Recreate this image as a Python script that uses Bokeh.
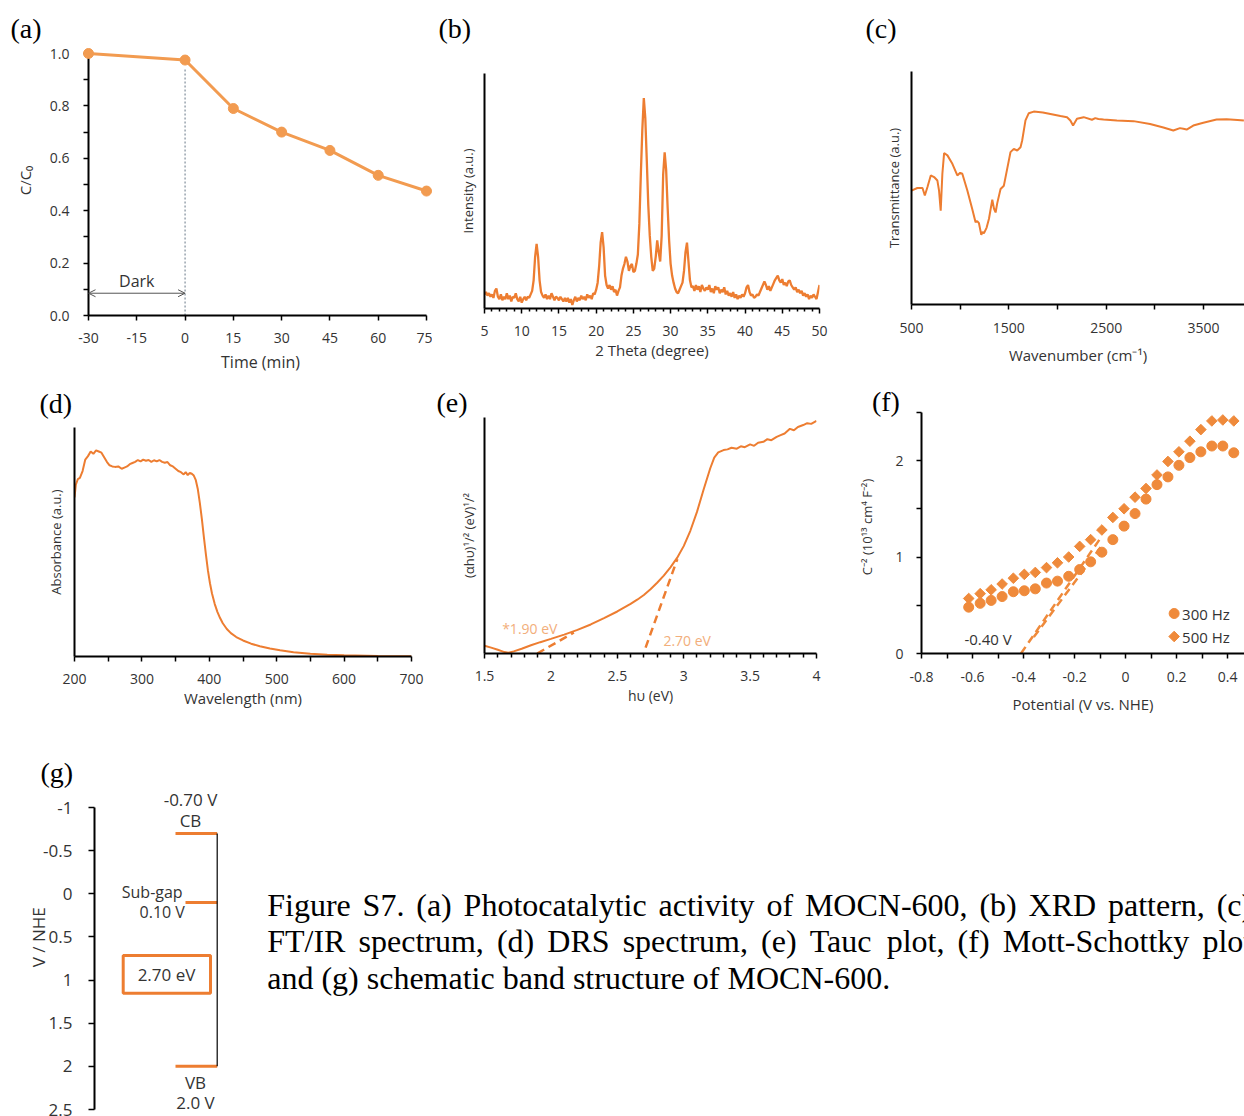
import numpy as np
from bokeh.plotting import figure
from bokeh.models import (Range1d, FixedTicker, Label, Arrow, OpenHead,
                          CustomJSTickFormatter, ColumnDataSource)
from bokeh.layouts import row, column
from bokeh.embed import file_html
from bokeh.resources import INLINE
from bokeh.core.properties import value

SANS = "Open Sans"
SERIF = "Liberation Serif"
ORANGE = "#ED7D31"
ORANGE_A = "#F29B50"
ORANGE_F = "#EF8A3B"
ORANGE_TXT = "#F2AE7B"
TXT = "#333333"

# ---------------- (a) photocatalytic activity ----------------
time_min = [-30, 0, 15, 30, 45, 60, 75]
c_c0 = [1.0, 0.975, 0.79, 0.70, 0.63, 0.535, 0.475]

# ---------------- (b) XRD ----------------
xrd_theta = [round(5 + 0.2 * i, 1) for i in range(226)]
xrd_int = [
    6, 7, 5.5, 6.5, 5,
    6, 4.5, 7.5, 8.5, 5,
    4, 6, 3.5, 5, 4,
    6.5, 4, 5.5, 3, 5,
    4.5, 6.5, 4, 3, 5,
    2.5, 4, 5, 3.5, 5,
    4.5, 6, 7.5, 12, 22,
    27.5, 22, 12, 7, 5.5,
    4.5, 6, 4, 5.5, 4,
    6.5, 5, 3.5, 5, 4.5,
    3.5, 5, 4, 3, 4.5,
    3, 4.5, 2.5, 4, 1.5,
    3.5, 5, 3, 4.5, 3.5,
    5.5, 4, 5, 3.5, 6,
    4.5, 5.5, 4, 6.5, 6,
    8, 11, 18, 28, 32.5,
    26, 14, 10, 8.5, 10,
    8, 9.5, 7, 8, 5.5,
    7.5, 9, 14, 17, 19,
    22, 20, 16, 18, 19,
    15.5, 16, 19, 23, 36,
    57, 76, 89.5, 81, 63,
    44, 31, 22, 16, 17,
    22, 29, 24, 20, 31,
    57, 66.5, 59, 43, 29,
    19, 14, 11, 8.5, 7,
    6.5, 8, 9.5, 11, 16,
    24, 28, 20, 12, 9,
    9.5, 7.5, 10, 8, 9.5,
    7, 10, 8.5, 7.5, 9,
    8, 10, 7, 8.5, 6.5,
    9.5, 8, 9, 6.5, 8,
    7, 9, 6, 7.5, 5.5,
    6.5, 5, 7, 4.5, 6,
    4, 5.5, 4.5, 6, 5,
    6.5, 9, 10, 7, 5.5,
    6, 4.5, 5, 6, 5.5,
    7, 8.5, 10, 11.5, 10,
    8, 9.5, 7.5, 9, 10.5,
    12, 13, 14, 12, 11,
    12.5, 10, 11, 9.5, 11.5,
    12, 10, 9, 8, 9,
    7, 8, 6.5, 7.5, 5.5,
    6.5, 5, 6, 4, 5.5,
    4.5, 6, 5, 4, 7,
    10,
]

# ---------------- (c) FT/IR ----------------
ir_wn = [500, 560, 613, 637, 664, 698, 732, 766, 783, 800, 817, 835, 869, 920, 971, 1000,
         1022, 1073, 1124, 1158, 1175, 1193, 1217, 1230, 1244, 1272, 1296, 1330, 1347, 1364,
         1381, 1415, 1449, 1483, 1517, 1551, 1586, 1620, 1637, 1671, 1705, 1756, 1850, 1927,
         2030, 2098, 2132, 2160, 2200, 2269, 2354, 2388, 2420, 2473, 2610, 2781, 2951, 3088,
         3190, 3258, 3293, 3327, 3395, 3498, 3634, 3737, 3850, 3915]
ir_t = [48.9, 50.0, 50.0, 46.8, 50.4, 55.4, 54.7, 53.2, 48.9, 40.3, 56.0, 65.0, 64.0, 60.4,
        55.4, 56.5, 56.1, 49.0, 41.0, 35.3, 35.8, 34.9, 29.9, 31.2, 30.5, 33.0, 36.8, 45.0,
        41.2, 39.5, 43.5, 49.6, 51.0, 58.2, 65.4, 66.8, 66.1, 67.5, 70.4, 79.0, 82.1, 82.8,
        82.4, 81.8, 80.9, 80.4, 79.0, 76.8, 79.7, 80.4, 79.3, 80.0, 79.6, 79.4, 79.0, 78.7,
        77.5, 76.0, 74.7, 75.7, 75.4, 75.1, 76.8, 78.0, 79.4, 79.5, 79.2, 79.0]

# ---------------- (d) DRS ----------------
drs_wl = [200, 202, 205, 208, 212, 216, 220, 224, 228, 232, 236, 240, 244, 248, 252, 256, 260,
          265, 270, 274, 278, 282, 286, 290, 294, 298, 302, 306, 310, 314, 318, 322, 326, 330,
          334, 338, 342, 346, 350, 354, 358, 362, 365, 368, 371, 374, 377, 380, 383, 386, 389,
          392, 395, 398, 401, 404, 408, 412, 416, 420, 426, 432, 440, 450, 462, 475, 490, 505,
          525, 550, 575, 600, 650, 700]
drs_abs = [69.5, 75, 77.5, 78, 81, 86, 87.5, 89.5, 88.5, 90, 89.5, 89, 87, 85, 83.5, 83, 82.8,
           83, 82, 82.5, 83, 84, 84.5, 85, 85.8, 85.2, 86, 85.5, 85.8, 85, 85.7, 85.2, 85.8, 85,
           84.6, 84.9, 83.5, 83, 82, 81, 80.5, 79.5, 80.5, 79.2, 80.2, 79.8, 79, 77, 73, 67, 60,
           52, 44.5, 37.5, 32, 27.5, 23, 19.5, 16.8, 14.5, 12, 10.2, 8.5, 7, 5.6, 4.5, 3.5, 2.7,
           1.9, 1.2, 0.8, 0.5, 0.2, 0.1]

# ---------------- (e) Tauc ----------------
tauc_hv = [1.50, 1.55, 1.60, 1.65, 1.68, 1.72, 1.78, 1.85, 1.92, 2.00, 2.10, 2.20, 2.30, 2.40,
           2.50, 2.60, 2.65, 2.70, 2.75, 2.80, 2.85, 2.90, 2.95, 3.00, 3.05, 3.10, 3.15, 3.20,
           3.23, 3.26, 3.30, 3.33, 3.36, 3.40, 3.43, 3.46, 3.50, 3.53, 3.56, 3.60, 3.63, 3.66,
           3.70, 3.73, 3.76, 3.80, 3.83, 3.86, 3.90, 3.93, 3.96, 4.00]
tauc_y = [3.3, 2.5, 1.6, 0.6, 0.3, 0.9, 2.0, 3.5, 4.8, 6.2, 8.0, 10.0, 12.3, 15.0, 17.8, 21.0,
          22.8, 24.8, 27.2, 30.0, 33.0, 36.5, 40.5, 45.5, 52.0, 60.0, 69.5, 78.5, 83.0, 85.2,
          86.2, 86.5, 87.2, 86.8, 87.8, 87.4, 88.6, 88.0, 89.3, 89.7, 90.8, 90.4, 91.8, 92.5,
          93.2, 95.2, 94.6, 96.0, 96.8, 97.6, 97.3, 98.6]
tauc_fit1_x = [1.897, 2.173]
tauc_fit1_y = [0.0, 8.9]
tauc_fit2_x = [2.713, 2.952]
tauc_fit2_y = [2.5, 40.0]
tauc_labels = ["*1.90 eV", "2.70 eV"]

# ---------------- (f) Mott-Schottky ----------------
ms_v = [-0.615, -0.570, -0.527, -0.484, -0.440, -0.397, -0.354, -0.310, -0.267, -0.223,
        -0.180, -0.137, -0.093, -0.050, -0.006, 0.037, 0.080, 0.123, 0.166, 0.209, 0.252,
        0.295, 0.338, 0.381, 0.424]
ms_300 = [0.48, 0.52, 0.55, 0.59, 0.64, 0.65, 0.67, 0.73, 0.75, 0.80, 0.87, 0.95, 1.05, 1.18,
          1.32, 1.45, 1.60, 1.75, 1.83, 1.95, 2.03, 2.09, 2.15, 2.15, 2.08]
ms_500 = [0.57, 0.62, 0.66, 0.72, 0.78, 0.82, 0.84, 0.89, 0.94, 1.00, 1.11, 1.18, 1.28, 1.41,
          1.50, 1.62, 1.71, 1.85, 1.99, 2.09, 2.20, 2.32, 2.41, 2.42, 2.41]
ms_fit500_x = [-0.41, -0.10]
ms_fit500_y = [0.0, 1.19]
ms_fit300_x = [-0.36, -0.09]
ms_fit300_y = [0.17, 1.13]
ms_series = ["300 Hz", "500 Hz"]
ms_flat_label = "-0.40 V"

# ---------------- (g) band structure ----------------
band_names = ["CB", "Sub-gap", "VB"]
band_pot = [-0.70, 0.10, 2.0]
band_vals = ["-0.70 V", "0.10 V", "2.0 V"]
gap_label = "2.70 eV"

CAPTION = [
    "Figure S7. (a) Photocatalytic activity of MOCN-600, (b) XRD pattern, (c)",
    "FT/IR spectrum, (d) DRS spectrum, (e) Tauc plot, (f) Mott-Schottky plot",
    "and (g) schematic band structure of MOCN-600.",
]

# ------------------------------------------------------------------


def lin(v1, p1, v2, p2, pa, pb):
    k = (v2 - v1) / (p2 - p1)
    return (v1 + (pa - p1) * k, v1 + (pb - p1) * k)


def make_panel(box, frame, xa, ya, xaxis=True, yaxis=True):
    bx, by, bw, bh = box
    L, T, R, B = frame
    xr = lin(*xa, L, R)
    yr = lin(*ya, B, T)
    p = figure(width=bw, height=bh, x_range=Range1d(*xr), y_range=Range1d(*yr),
               output_backend="svg", toolbar_location=None,
               x_axis_location="below" if xaxis else None,
               y_axis_location="left" if yaxis else None,
               min_border_left=L - bx, min_border_right=bx + bw - R,
               min_border_top=T - by, min_border_bottom=by + bh - B)
    p.outline_line_color = None
    p.grid.visible = False
    p.background_fill_color = "white"
    p.border_fill_color = "white"

    def conv(X, Y):
        x = xr[0] + (X - L) * (xr[1] - xr[0]) / (R - L)
        y = yr[0] + (B - Y) * (yr[1] - yr[0]) / (B - T)
        return x, y
    return p, conv


def style_axis(ax, tick_fs="14px", label_fs="15px", tick_out=5, minor_out=5,
               label_standoff=8, axis_standoff=6):
    ax.axis_line_width = 2
    ax.axis_line_color = "black"
    ax.major_tick_line_color = "black"
    ax.major_tick_line_width = 1.5
    ax.minor_tick_line_color = "black"
    ax.minor_tick_line_width = 1.5
    ax.major_tick_in = 0
    ax.major_tick_out = tick_out
    ax.minor_tick_in = 0
    ax.minor_tick_out = minor_out
    ax.major_label_text_font = SANS
    ax.major_label_text_font_size = tick_fs
    ax.major_label_text_color = TXT
    ax.major_label_standoff = label_standoff
    ax.axis_label_text_font = SANS
    ax.axis_label_text_font_style = "normal"
    ax.axis_label_text_font_size = label_fs
    ax.axis_label_text_color = TXT
    ax.axis_label_standoff = axis_standoff


def free_text(p, conv, text, X, Y, font=SANS, size="15px", color=TXT, align="left",
              angle=0.0):
    # text placed at a page position; drawn on the overlay level so it may sit outside the frame
    x, y = conv(X, Y)
    p.text(x=[x], y=[y], text=[text], text_font=value(font), text_font_size=value(size),
           text_color=color, text_align=align, text_baseline="middle", angle=angle,
           level="overlay")


def panel_label(p, conv, text, X, Y):
    free_text(p, conv, text, X, Y, font=SERIF, size="28px", color="black")


fmt = CustomJSTickFormatter(code="return String(Math.round(tick * 100) / 100);")
fmt1 = CustomJSTickFormatter(code="return tick.toFixed(1);")

# ---------------- panel a ----------------
pa, ca = make_panel((0, 0, 432, 380), (88, 45, 432, 315), (-30, 88, 75, 426), (0, 315, 1.0, 53))
style_axis(pa.xaxis[0], tick_fs="14px", label_fs="16px", label_standoff=12, axis_standoff=5)
style_axis(pa.yaxis[0], tick_fs="14px", label_fs="15px", label_standoff=14, axis_standoff=12)
pa.xaxis[0].bounds = (time_min[0], time_min[-1])
pa.xaxis[0].ticker = FixedTicker(ticks=[-30, -15, 0, 15, 30, 45, 60, 75])
pa.xaxis[0].formatter = fmt
pa.xaxis[0].axis_label = "Time (min)"
pa.yaxis[0].bounds = (0, 1.0)
pa.yaxis[0].ticker = FixedTicker(ticks=[0.0, 0.2, 0.4, 0.6, 0.8, 1.0],
                                 minor_ticks=[0.1, 0.3, 0.5, 0.7, 0.9])
pa.yaxis[0].formatter = fmt1
pa.yaxis[0].axis_label = "C/C\u2080"
pa.line([time_min[1], time_min[1]], [0, 0.945], line_color="#7F8C99", line_width=1.2,
        line_dash="2 2")
pa.line(time_min, c_c0, line_color=ORANGE_A, line_width=3)
pa.scatter(time_min, c_c0, size=10, color=ORANGE_A, level="overlay")
pa.add_layout(Arrow(start=OpenHead(size=7, line_color="#555555", line_width=1),
                    end=OpenHead(size=7, line_color="#555555", line_width=1),
                    x_start=time_min[0], y_start=0.085, x_end=time_min[1], y_end=0.085,
                    line_color="#555555", line_width=1, level="overlay"))
pa.add_layout(Label(x=(time_min[0] + time_min[1]) / 2, y=0.131, text="Dark", text_font=SANS,
                    text_font_size="16px", text_align="center", text_baseline="middle",
                    text_color=TXT))
panel_label(pa, ca, "(a)", 10, 28)

# ---------------- panel b ----------------
pb, cb = make_panel((432, 0, 423, 380), (484, 73, 819, 308), (5, 484, 50, 819), (0, 308, 100, 73))
style_axis(pb.xaxis[0], tick_fs="14px", label_fs="15px", tick_out=5, minor_out=3,
           label_standoff=12, axis_standoff=1)
style_axis(pb.yaxis[0], label_fs="13px", tick_out=0, minor_out=0, label_standoff=0,
           axis_standoff=8)
pb.xaxis[0].ticker = FixedTicker(ticks=list(range(5, 51, 5)),
                                 minor_ticks=[i for i in range(5, 51) if i % 5])
pb.xaxis[0].axis_label = "2 Theta (degree)"
pb.yaxis[0].ticker = FixedTicker(ticks=[])
pb.yaxis[0].axis_label = "Intensity (a.u.)"
pb.line(xrd_theta, xrd_int, line_color=ORANGE, line_width=2.3)
panel_label(pb, cb, "(b)", 438, 28)

# ---------------- panel c ----------------
pc, cc = make_panel((855, 0, 389, 380), (911, 71, 1244, 304), (500, 911, 3500, 1203),
                    (0, 304, 100, 71))
style_axis(pc.xaxis[0], tick_fs="14px", label_fs="15px", label_standoff=13, axis_standoff=9)
style_axis(pc.yaxis[0], label_fs="13px", tick_out=0, minor_out=0, label_standoff=0,
           axis_standoff=9)
pc.xaxis[0].ticker = FixedTicker(ticks=[500, 1500, 2500, 3500], minor_ticks=[1000, 2000, 3000])
pc.xaxis[0].axis_label = "Wavenumber (cm\u207b\u00b9)"
pc.yaxis[0].ticker = FixedTicker(ticks=[])
pc.yaxis[0].axis_label = "Transmittance (a.u.)"
pc.line(ir_wn, ir_t, line_color=ORANGE, line_width=2)
panel_label(pc, cc, "(c)", 865, 28)

# ---------------- panel d ----------------
pd_, cd = make_panel((0, 380, 432, 355), (74, 427, 411, 656), (200, 74, 700, 411),
                     (0, 656, 100, 427))
style_axis(pd_.xaxis[0], tick_fs="14px", label_fs="15px", label_standoff=12, axis_standoff=1)
style_axis(pd_.yaxis[0], label_fs="13px", tick_out=0, minor_out=0, label_standoff=0,
           axis_standoff=10)
pd_.xaxis[0].ticker = FixedTicker(ticks=[200, 300, 400, 500, 600, 700],
                                  minor_ticks=[250, 350, 450, 550, 650])
pd_.xaxis[0].axis_label = "Wavelength (nm)"
pd_.yaxis[0].ticker = FixedTicker(ticks=[])
pd_.yaxis[0].axis_label = "Absorbance (a.u.)"
pd_.line(drs_wl, drs_abs, line_color=ORANGE, line_width=2)
panel_label(pd_, cd, "(d)", 39, 403)

# ---------------- panel e ----------------
pe, ce = make_panel((432, 380, 423, 355), (484, 417, 816, 653), (1.5, 484, 4, 816),
                    (0, 653, 100, 417))
style_axis(pe.xaxis[0], tick_fs="14px", label_fs="14px", minor_out=4, label_standoff=12,
           axis_standoff=2)
style_axis(pe.yaxis[0], label_fs="13px", tick_out=0, minor_out=0, label_standoff=0,
           axis_standoff=7)
pe.xaxis[0].ticker = FixedTicker(ticks=[1.5, 2, 2.5, 3, 3.5, 4],
                                 minor_ticks=[round(1.5 + 0.1 * i, 1) for i in range(26) if i % 5])
pe.xaxis[0].formatter = fmt
pe.xaxis[0].axis_label = "h\u03c5 (eV)"
pe.yaxis[0].ticker = FixedTicker(ticks=[])
pe.yaxis[0].axis_label = "(\u03b1h\u03c5)\u00b9/\u00b2 (eV)\u00b9/\u00b2"
pe.line(tauc_hv, tauc_y, line_color=ORANGE, line_width=2)
pe.line(tauc_fit1_x, tauc_fit1_y, line_color=ORANGE, line_width=2.5, line_dash="8 5")
pe.line(tauc_fit2_x, tauc_fit2_y, line_color=ORANGE, line_width=2.5, line_dash="8 5")
pe.add_layout(Label(x=1.633, y=10.8, text=tauc_labels[0], text_font=SANS, text_font_size="14px",
                    text_align="left", text_baseline="middle", text_color=ORANGE_TXT))
pe.add_layout(Label(x=2.847, y=5.7, text=tauc_labels[1], text_font=SANS, text_font_size="14px",
                    text_align="left", text_baseline="middle", text_color=ORANGE_TXT))
panel_label(pe, ce, "(e)", 436, 402)

# ---------------- panel f ----------------
pf, cf = make_panel((855, 380, 389, 355), (918, 400, 1244, 653), (-0.8, 918, 0.4, 1227),
                    (0, 653, 2, 460))
style_axis(pf.xaxis[0], tick_fs="14px", label_fs="15px", label_standoff=13, axis_standoff=9)
style_axis(pf.yaxis[0], tick_fs="14px", label_fs="13px", label_standoff=13, axis_standoff=16)
pf.xaxis[0].ticker = FixedTicker(ticks=[-0.8, -0.6, -0.4, -0.2, 0, 0.2, 0.4],
                                 minor_ticks=[-0.7, -0.5, -0.3, -0.1, 0.1, 0.3])
pf.xaxis[0].formatter = fmt
pf.xaxis[0].axis_label = "Potential (V vs. NHE)"
pf.yaxis[0].bounds = (0, 2.5)
pf.yaxis[0].ticker = FixedTicker(ticks=[0, 1, 2], minor_ticks=[0.5, 1.5, 2.5])
pf.yaxis[0].formatter = fmt
pf.yaxis[0].axis_label = "C\u207b\u00b2 (10\u00b9\u00b3 cm\u2074 F\u207b\u00b2)"
pf.line(ms_fit500_x, ms_fit500_y, line_color=ORANGE_F, line_width=2.5, line_dash="8 5")
pf.line(ms_fit300_x, ms_fit300_y, line_color=ORANGE_F, line_width=2.5, line_dash="8 5")
pf.scatter(ms_v, ms_300, marker="circle", size=10, color=ORANGE_F)
pf.scatter(ms_v, ms_500, marker="square", angle=np.pi / 4, size=7.5, color=ORANGE_F)
# legend (bottom right), drawn as key markers + labels
lx1, ly1 = cf(1173, 613)
lx2, ly2 = cf(1173, 636)
pf.scatter([lx1], [ly1], marker="circle", size=10, color=ORANGE_F)
pf.scatter([lx2], [ly2], marker="square", angle=np.pi / 4, size=7.5, color=ORANGE_F)
free_text(pf, cf, ms_series[0], 1181, 613, size="15px")
free_text(pf, cf, ms_series[1], 1181, 636, size="15px")
pf.add_layout(Label(x=-0.539, y=0.155, text=ms_flat_label, text_font=SANS, text_font_size="15px",
                    text_align="center", text_baseline="middle", text_color=TXT))
panel_label(pf, cf, "(f)", 868, 401)

# ---------------- panel g ----------------
pg, cg = make_panel((0, 735, 250, 381), (94, 735, 250, 1116), (0, 94, 156, 250),
                    (-1, 807, 2.5, 1109), xaxis=False)
style_axis(pg.yaxis[0], tick_fs="17px", tick_out=6, label_standoff=16)
pg.yaxis[0].bounds = (-1, 2.5)
pg.yaxis[0].ticker = FixedTicker(ticks=[-1, -0.5, 0, 0.5, 1, 1.5, 2, 2.5])
pg.yaxis[0].formatter = fmt
x_start = [175 - 94, 185 - 94, 175 - 94]
x_end = 216.7 - 94
pg.segment(x0=x_start, y0=band_pot, x1=[x_end] * 3, y1=band_pot, line_color=ORANGE,
           line_width=3)
pg.segment(x0=[x_end], y0=[band_pot[0]], x1=[x_end], y1=[band_pot[2]], line_color="black",
           line_width=1.2)
bx0, by0 = cg(122.7, 955)
bx1, by1 = cg(210, 992.7)
pg.quad(left=[bx0], right=[bx1], top=[by0], bottom=[by1], fill_alpha=0, line_color=ORANGE,
        line_width=3)


def glabel(text, X, Y, fs="17px"):
    x, y = cg(X, Y)
    pg.add_layout(Label(x=x, y=y, text=text, text_font=SANS, text_font_size=fs,
                        text_align="center", text_baseline="middle", text_color=TXT))


glabel(band_vals[0], 190, 799)
glabel(band_names[0], 190, 820)
glabel(band_names[1], 151.7, 891.7, "16px")
glabel(band_vals[1], 161.7, 911.7, "16px")
glabel(band_names[2], 195, 1081.7)
glabel(band_vals[2], 195, 1101.7)
glabel(gap_label, 166, 974)
free_text(pg, cg, "V / NHE", 38, 936.7, size="17px", align="center", angle=np.pi / 2)
panel_label(pg, cg, "(g)", 40, 772)

# ---------------- caption ----------------
TNR = {' ': 250, '(': 333, ')': 333, ',': 250, '-': 333, '.': 250, '/': 278, '0': 500,
       '6': 500, '7': 500, 'C': 667, 'D': 722, 'F': 556, 'I': 333, 'M': 889, 'N': 722,
       'O': 722, 'P': 556, 'R': 667, 'S': 556, 'T': 611, 'X': 722, 'a': 444, 'b': 500,
       'c': 444, 'd': 500, 'e': 444, 'f': 333, 'g': 500, 'h': 500, 'i': 278, 'k': 500,
       'l': 278, 'm': 778, 'n': 500, 'o': 500, 'p': 500, 'r': 333, 's': 389, 't': 278,
       'u': 500, 'v': 500, 'y': 500}
CAP_FS = 32
pcap = figure(width=994, height=381, x_range=Range1d(0, 994), y_range=Range1d(381, 0),
              output_backend="svg", toolbar_location=None, x_axis_location=None,
              y_axis_location=None, min_border_left=0, min_border_right=0, min_border_top=0,
              min_border_bottom=0)
pcap.outline_line_color = None
pcap.grid.visible = False
cx, cy, ct = [], [], []
line_w = 985.0
for li, (line, just) in enumerate(zip(CAPTION, [True, True, False])):
    words = line.split(" ")
    widths = [sum(TNR.get(ch, 500) for ch in w) * CAP_FS / 1000.0 for w in words]
    gap = (line_w - sum(widths)) / (len(words) - 1) if just else 0.25 * CAP_FS
    x = 16.7
    for w, ww in zip(words, widths):
        cx.append(x)
        cy.append(169 + 36.5 * li)
        ct.append(w)
        x += ww + gap
pcap.text(x="x", y="y", text="text", source=ColumnDataSource(dict(x=cx, y=cy, text=ct)),
          text_font=value(SERIF), text_font_size=value("32px"), text_baseline="alphabetic",
          text_align="left", text_color="black")

# each figure wrapped in its own row so that sibling plots do not share border sizes
layout = column(
    row(row(pa), row(pb), row(pc)),
    row(row(pd_), row(pe), row(pf)),
    row(row(pg), row(pcap)),
)
open("out.html", "w").write(file_html(layout, INLINE))
